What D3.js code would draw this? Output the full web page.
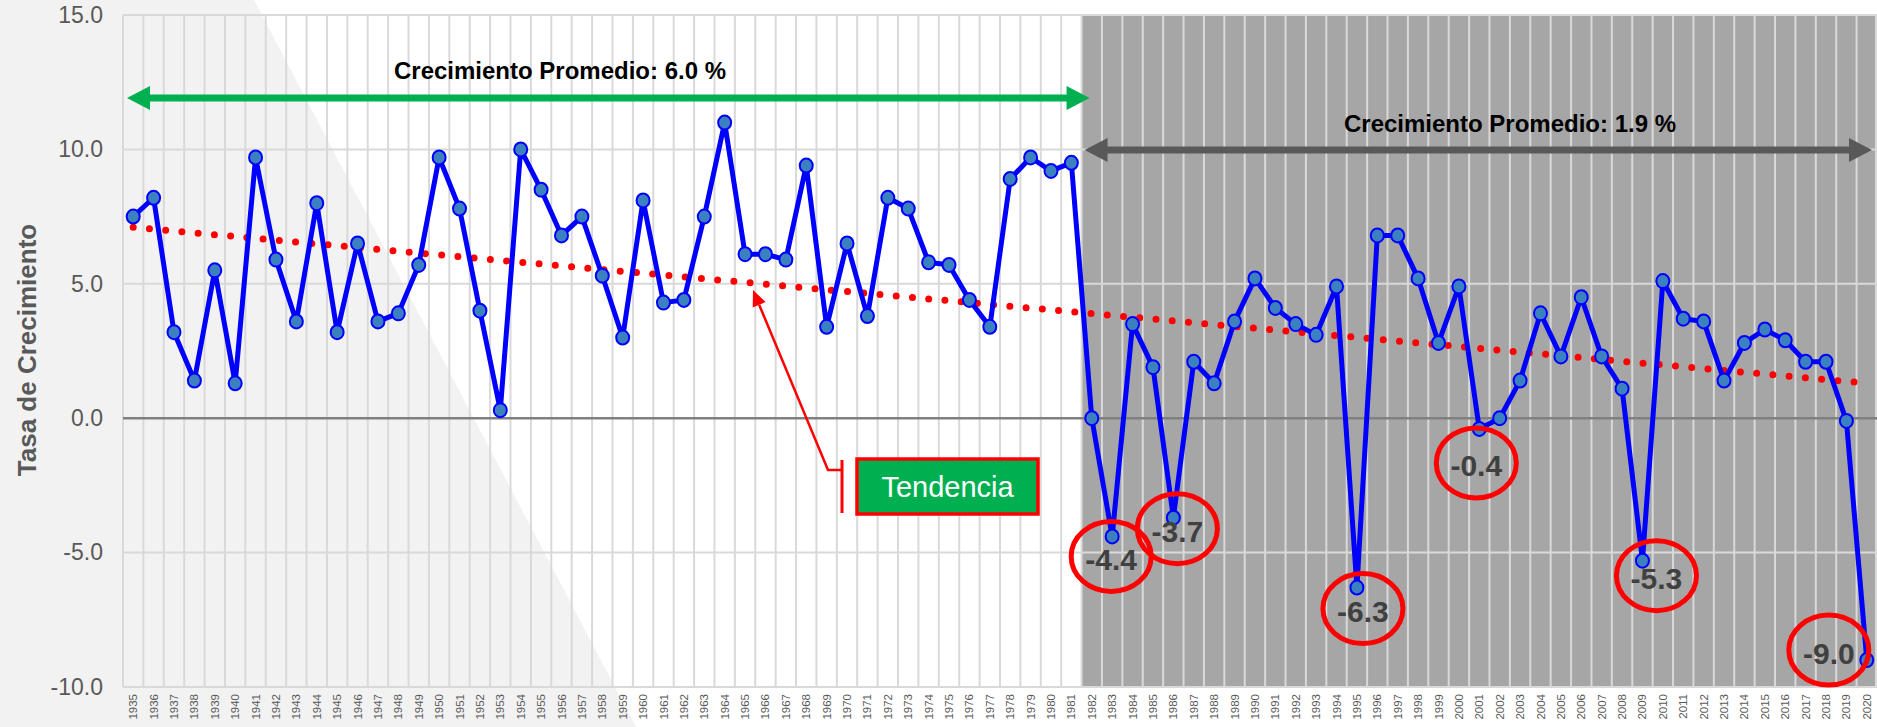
<!DOCTYPE html>
<html>
<head>
<meta charset="utf-8">
<script src="https://cdn.jsdelivr.net/npm/d3@7"></script>
<style>
  body { margin: 0; background: #fff; }
  svg { display: block; font-family: "Liberation Sans", Arial, sans-serif; }
</style>
</head>
<body>
<div id="chart"></div>
<script>
// Chart data
const years = d3.range(1935, 2021).map(String);
const growth = [
  7.5, 8.2, 3.2, 1.4, 5.5, 1.3, 9.7, 5.9, 3.6, 8.0,   // 1935-1944
  3.2, 6.5, 3.6, 3.9, 5.7, 9.7, 7.8, 4.0, 0.3, 10.0,  // 1945-1954
  8.5, 6.8, 7.5, 5.3, 3.0, 8.1, 4.3, 4.4, 7.5, 11.0,  // 1955-1964
  6.1, 6.1, 5.9, 9.4, 3.4, 6.5, 3.8, 8.2, 7.8, 5.8,   // 1965-1974
  5.7, 4.4, 3.4, 8.9, 9.7, 9.2, 9.5, 0.0, -4.4, 3.5,  // 1975-1984
  1.9, -3.7, 2.1, 1.3, 3.6, 5.2, 4.1, 3.5, 3.1, 4.9,  // 1985-1994
  -6.3, 6.8, 6.8, 5.2, 2.8, 4.9, -0.4, 0.0, 1.4, 3.9, // 1995-2004
  2.3, 4.5, 2.3, 1.1, -5.3, 5.1, 3.7, 3.6, 1.4, 2.8,  // 2005-2014
  3.3, 2.9, 2.1, 2.1, -0.1, -9.0                      // 2015-2020
];
const yTicks = [-10, -5, 0, 5, 10, 15];
const trendYears = ["1935", "2020"];
const trendValues = [7.1, 1.3];
const periodLabels = ["Crecimiento Promedio: 6.0 %", "Crecimiento Promedio: 1.9 %"];
const periodStart = ["1935", "1982"];
const highlightYears = ["1983", "1986", "1995", "2001", "2009", "2020"];
const axisTitle = "Tasa de Crecimiento";
const calloutText = "Tendencia";

const data = years.map((yr, i) => ({ year: yr, value: growth[i] }));

// Layout
const width = 1877, height = 727;
const plotLeft = 123, plotRight = 1877, plotTop = 15, plotBottom = 687;

const svg = d3.select("#chart").append("svg")
    .attr("width", width)
    .attr("height", height);

const x = d3.scaleBand().domain(years).range([plotLeft, plotRight]).padding(0);
const y = d3.scaleLinear().domain([-10, 15]).range([plotBottom, plotTop]);
const bw = x.bandwidth();
const cx = yr => x(yr) + bw / 2;

// light grey wedge in the background
svg.append("polygon")
    .attr("points", "0,0 254,0 636,727 0,727")
    .attr("fill", "#f2f2f2");

// dark band for the second period
svg.append("rect")
    .attr("x", x(periodStart[1]))
    .attr("y", plotTop)
    .attr("width", plotRight - x(periodStart[1]))
    .attr("height", plotBottom - plotTop)
    .attr("fill", "#a6a6a6");

// vertical gridlines at band edges
const edges = years.map(d => x(d)).concat([plotRight - 1]);
svg.append("g").selectAll("line")
    .data(edges)
    .enter().append("line")
    .attr("x1", d => d).attr("x2", d => d)
    .attr("y1", plotTop).attr("y2", plotBottom)
    .attr("stroke", "#d9d9d9")
    .attr("stroke-width", 2);

// horizontal gridlines
svg.append("g").selectAll("line")
    .data(yTicks.filter(d => d !== 0))
    .enter().append("line")
    .attr("x1", plotLeft).attr("x2", plotRight)
    .attr("y1", d => y(d)).attr("y2", d => y(d))
    .attr("stroke", "#d9d9d9")
    .attr("stroke-width", 2);

svg.append("line")
    .attr("x1", plotLeft).attr("x2", plotRight)
    .attr("y1", y(0)).attr("y2", y(0))
    .attr("stroke", "#808080")
    .attr("stroke-width", 2.5);

// y axis
const yAxis = svg.append("g")
    .attr("transform", `translate(${plotLeft},0)`)
    .call(d3.axisLeft(y).tickValues(yTicks).tickSize(0).tickPadding(20)
        .tickFormat(d => d.toFixed(1)));
yAxis.select(".domain").remove();
yAxis.selectAll("text")
    .attr("fill", "#595959")
    .style("font-size", "23px")
    .style("font-family", "'Liberation Sans', Arial, sans-serif");

// x axis with vertical year labels
const xAxis = svg.append("g")
    .attr("transform", `translate(0,${plotBottom})`)
    .call(d3.axisBottom(x).tickSize(0));
xAxis.select(".domain").remove();
xAxis.selectAll("text")
    .attr("fill", "#595959")
    .attr("transform", "rotate(-90)")
    .attr("text-anchor", "end")
    .attr("x", -7)
    .attr("y", 0)
    .attr("dy", "0.35em")
    .style("font-size", "11.5px")
    .style("font-family", "'Liberation Sans', Arial, sans-serif");

// axis title
svg.append("text")
    .attr("transform", "translate(36,350) rotate(-90)")
    .attr("text-anchor", "middle")
    .attr("fill", "#595959")
    .style("font-size", "26px")
    .style("font-weight", "bold")
    .text(axisTitle);

// trend line (dotted)
const trend = trendYears.map((yr, i) => ({ year: yr, value: trendValues[i] }));
svg.append("path")
    .datum(trend)
    .attr("d", d3.line().x(d => cx(d.year)).y(d => y(d.value)))
    .attr("fill", "none")
    .attr("stroke", "#ff0000")
    .attr("stroke-width", 7)
    .attr("stroke-linecap", "round")
    .attr("stroke-dasharray", "0,16.3");

// growth line
svg.append("path")
    .datum(data)
    .attr("d", d3.line().x(d => cx(d.year)).y(d => y(d.value)))
    .attr("fill", "none")
    .attr("stroke", "#0000ff")
    .attr("stroke-width", 5)
    .attr("stroke-linejoin", "round");

svg.append("g").selectAll("ellipse")
    .data(data)
    .enter().append("ellipse")
    .attr("cx", d => cx(d.year))
    .attr("cy", d => y(d.value))
    .attr("rx", 6.5)
    .attr("ry", 7)
    .attr("fill", "#3c80c0")
    .attr("stroke", "#0000ff")
    .attr("stroke-width", 2);

// double headed arrows with the period averages
function arrow(x1, x2, yPos, color) {
  const head = 23, half = 12;
  const g = svg.append("g");
  g.append("line")
      .attr("x1", x1 + head - 2).attr("x2", x2 - head + 2)
      .attr("y1", yPos).attr("y2", yPos)
      .attr("stroke", color)
      .attr("stroke-width", 7);
  g.append("polygon")
      .attr("points", `${x1},${yPos} ${x1 + head},${yPos - half} ${x1 + head},${yPos + half}`)
      .attr("fill", color);
  g.append("polygon")
      .attr("points", `${x2},${yPos} ${x2 - head},${yPos - half} ${x2 - head},${yPos + half}`)
      .attr("fill", color);
}
arrow(x(periodStart[0]) + 4, x(periodStart[1]) + 8, 98, "#00b050");
arrow(x(periodStart[1]) + 3, plotRight - 5, 150, "#595959");

svg.append("text")
    .attr("x", 560).attr("y", 79)
    .attr("text-anchor", "middle")
    .style("font-size", "24px")
    .style("font-weight", "bold")
    .text(periodLabels[0]);
svg.append("text")
    .attr("x", 1510).attr("y", 132)
    .attr("text-anchor", "middle")
    .style("font-size", "24px")
    .style("font-weight", "bold")
    .text(periodLabels[1]);

// circled labels for the negative years
const labelOffset = {
  "1983": [-1, 20], "1986": [4, 11], "1995": [6, 21],
  "2001": [-3, 34], "2009": [14, 15], "2020": [-38, -10]
};
const marks = data.filter(d => highlightYears.includes(d.year));
const ann = svg.append("g").selectAll("g")
    .data(marks)
    .enter().append("g")
    .attr("transform", d => {
      const o = labelOffset[d.year];
      return `translate(${cx(d.year) + o[0]},${y(d.value) + o[1]})`;
    });
ann.append("text")
    .attr("text-anchor", "middle")
    .attr("dy", "0.45em")
    .attr("fill", "#404040")
    .style("font-size", "30px")
    .style("font-weight", "bold")
    .text(d => d.value.toFixed(1));
ann.append("ellipse")
    .attr("rx", 40)
    .attr("ry", 35)
    .attr("fill", "none")
    .attr("stroke", "#ff0000")
    .attr("stroke-width", 5);

// "Tendencia" callout
const callout = svg.append("g");
const tip = [753, 290], elbow = [828, 470], bar = 842;
const ang = Math.atan2(tip[1] - elbow[1], tip[0] - elbow[0]);
const hl = 16, hw = 7;
const base = [tip[0] - hl * Math.cos(ang), tip[1] - hl * Math.sin(ang)];
callout.append("polyline")
    .attr("points", `${base[0]},${base[1]} ${elbow[0]},${elbow[1]} ${bar},${elbow[1]}`)
    .attr("fill", "none")
    .attr("stroke", "#ff0000")
    .attr("stroke-width", 2.5);
callout.append("polygon")
    .attr("points", [
      tip,
      [base[0] + hw * Math.sin(ang), base[1] - hw * Math.cos(ang)],
      [base[0] - hw * Math.sin(ang), base[1] + hw * Math.cos(ang)]
    ].map(p => p.join(",")).join(" "))
    .attr("fill", "#ff0000");
callout.append("line")
    .attr("x1", bar).attr("x2", bar)
    .attr("y1", 460).attr("y2", 513)
    .attr("stroke", "#ff0000")
    .attr("stroke-width", 3);
callout.append("rect")
    .attr("x", 857).attr("y", 459)
    .attr("width", 181).attr("height", 55)
    .attr("fill", "#00b050")
    .attr("stroke", "#ff0000")
    .attr("stroke-width", 3.5);
callout.append("text")
    .attr("x", 947.5).attr("y", 487)
    .attr("dy", "0.36em")
    .attr("text-anchor", "middle")
    .attr("fill", "#fff")
    .style("font-size", "29px")
    .text(calloutText);
</script>
</body>
</html>
